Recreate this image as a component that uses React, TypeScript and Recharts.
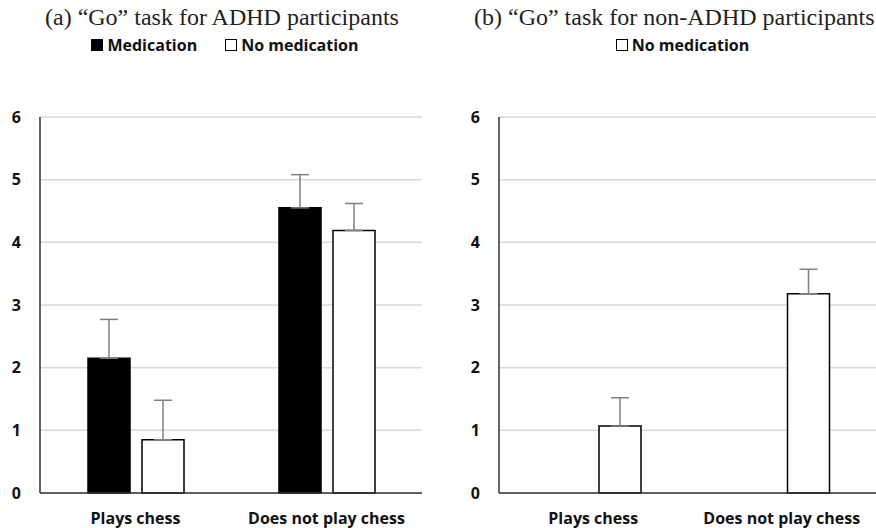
import { BarChart, Bar, XAxis, YAxis, CartesianGrid, ErrorBar, Legend } from 'recharts';

const categories = ['Plays chess', 'Does not play chess'];
const adhdMedication = [2.15, 4.55];
const adhdMedicationErr = [0.62, 0.53];
const adhdNoMedication = [0.85, 4.19];
const adhdNoMedicationErr = [0.63, 0.43];
const nonAdhdNoMedication = [1.07, 3.18];
const nonAdhdNoMedicationErr = [0.45, 0.39];
const yTicks = [0, 1, 2, 3, 4, 5, 6];

const adhdData = categories.map((category, i) => ({
  category,
  med: adhdMedication[i],
  medErr: [0, adhdMedicationErr[i]],
  noMed: adhdNoMedication[i],
  noMedErr: [0, adhdNoMedicationErr[i]],
}));

// Excel kept an empty "Medication" series in panel (b), so the bar sits right of centre
const nonAdhdData = categories.map((category, i) => ({
  category,
  med: null,
  noMed: nonAdhdNoMedication[i],
  noMedErr: [0, nonAdhdNoMedicationErr[i]],
}));

const SANS = '"Open Sans", sans-serif';
const SERIF = '"Liberation Serif", serif';
const AXIS = '#333333';
const GRID = '#d9d9d9';
const ERR = '#7f7f7f';

const tickStyle = { fontFamily: SANS, fontSize: 16, fontWeight: 700, fill: '#111' };

function LegendItems({ items }: { items: { label: string; filled: boolean }[] }) {
  return (
    <div
      style={{
        display: 'flex',
        justifyContent: 'center',
        gap: 28,
        fontFamily: SANS,
        fontSize: 16,
        fontWeight: 700,
        color: '#111',
        lineHeight: '20px',
      }}
    >
      {items.map((it) => (
        <span key={it.label} style={{ display: 'flex', alignItems: 'center' }}>
          <span
            style={{
              display: 'inline-block',
              width: 10,
              height: 10,
              marginRight: 4,
              background: it.filled ? '#000' : '#fff',
              border: '1.5px solid #000',
            }}
          />
          {it.label}
        </span>
      ))}
    </div>
  );
}

function Title({ text, left }: { text: string; left: number }) {
  return (
    <div
      style={{
        position: 'absolute',
        top: 2,
        left,
        fontFamily: SERIF,
        fontSize: 24,
        lineHeight: '30px',
        color: '#231f20',
        whiteSpace: 'nowrap',
      }}
    >
      {text}
    </div>
  );
}

export default function App() {
  return (
    <div style={{ position: 'absolute', left: 0, top: 0, width: 876, height: 528, background: '#fff' }}>
      <Title text="(a) “Go” task for ADHD participants" left={45} />
      <Title text="(b) “Go” task for non-ADHD participants" left={474} />

      <div style={{ position: 'absolute', left: 0, top: 0 }}>
        <BarChart
          width={438}
          height={528}
          data={adhdData}
          margin={{ top: 117, right: 16, bottom: 0, left: 0 }}
          barSize={42}
          barGap={12}
        >
          <CartesianGrid vertical={false} stroke={GRID} strokeWidth={1.5} />
          <XAxis
            dataKey="category"
            height={35}
            axisLine={{ stroke: AXIS, strokeWidth: 1.5 }}
            tickLine={false}
            tickSize={0}
            tickMargin={20}
            tick={tickStyle}
          />
          <YAxis
            width={40}
            domain={[0, 6]}
            ticks={yTicks}
            axisLine={{ stroke: AXIS, strokeWidth: 1.5 }}
            tickLine={false}
            tickSize={0}
            tickMargin={19}
            tick={tickStyle}
          />
          <Legend
            verticalAlign="middle"
            align="center"
            wrapperStyle={{ top: 35, left: 30, width: 390 }}
            content={() => (
              <LegendItems
                items={[
                  { label: 'Medication', filled: true },
                  { label: 'No medication', filled: false },
                ]}
              />
            )}
          />
          <Bar dataKey="med" name="Medication" fill="#000" stroke="#000" strokeWidth={1.5} isAnimationActive={false}>
            <ErrorBar dataKey="medErr" width={9} stroke={ERR} strokeWidth={1.5} direction="y" />
          </Bar>
          <Bar dataKey="noMed" name="No medication" fill="#fff" stroke="#000" strokeWidth={1.5} isAnimationActive={false}>
            <ErrorBar dataKey="noMedErr" width={9} stroke={ERR} strokeWidth={1.5} direction="y" />
          </Bar>
        </BarChart>
      </div>

      <div style={{ position: 'absolute', left: 438, top: 0 }}>
        <BarChart
          width={438}
          height={528}
          data={nonAdhdData}
          margin={{ top: 117, right: 0, bottom: 0, left: 0 }}
          barSize={42}
          barGap={12}
        >
          <CartesianGrid vertical={false} stroke={GRID} strokeWidth={1.5} />
          <XAxis
            dataKey="category"
            height={35}
            axisLine={{ stroke: AXIS, strokeWidth: 1.5 }}
            tickLine={false}
            tickSize={0}
            tickMargin={20}
            tick={tickStyle}
          />
          <YAxis
            width={61}
            domain={[0, 6]}
            ticks={yTicks}
            axisLine={{ stroke: AXIS, strokeWidth: 1.5 }}
            tickLine={false}
            tickSize={0}
            tickMargin={19}
            tick={tickStyle}
          />
          <Legend
            verticalAlign="middle"
            align="center"
            wrapperStyle={{ top: 35, left: 56, width: 377 }}
            content={() => <LegendItems items={[{ label: 'No medication', filled: false }]} />}
          />
          <Bar dataKey="med" name="Medication" fill="#000" stroke="#000" strokeWidth={1.5} isAnimationActive={false} />
          <Bar dataKey="noMed" name="No medication" fill="#fff" stroke="#000" strokeWidth={1.5} isAnimationActive={false}>
            <ErrorBar dataKey="noMedErr" width={9} stroke={ERR} strokeWidth={1.5} direction="y" />
          </Bar>
        </BarChart>
      </div>
    </div>
  );
}
